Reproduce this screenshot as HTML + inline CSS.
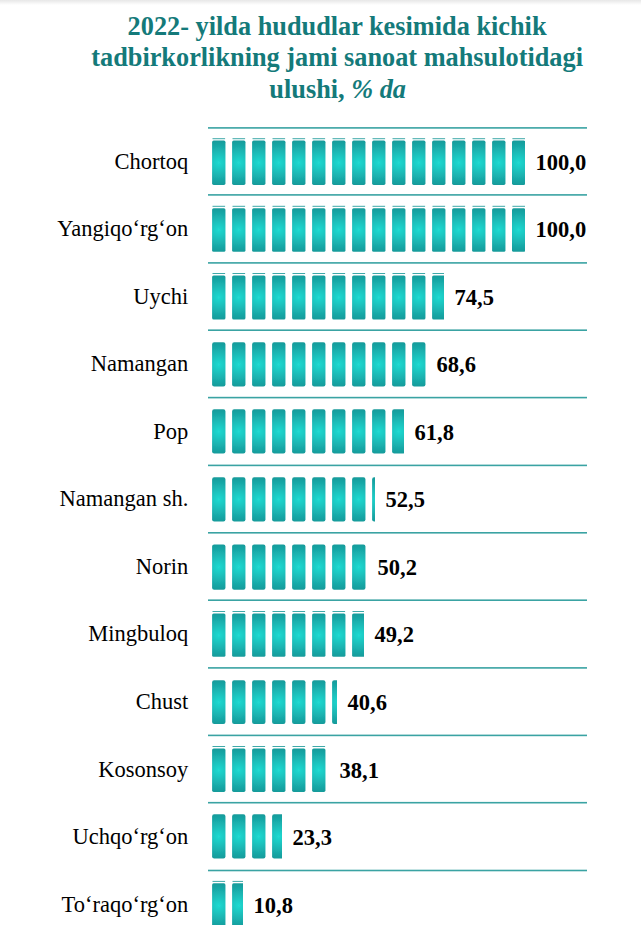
<!DOCTYPE html>
<html><head><meta charset="utf-8"><title>chart</title>
<style>
html,body{margin:0;padding:0;background:#fff;}
body{width:641px;height:925px;position:relative;overflow:hidden;font-family:"Liberation Serif",serif;}
.topstrip{position:absolute;left:0;top:0;width:641px;height:5px;background:linear-gradient(#e7e7e7,#ffffff);}
.t{position:absolute;left:37.1px;width:600px;text-align:center;color:#147a7a;font-weight:bold;font-size:26.3px;line-height:32px;white-space:nowrap;}
.t i{font-style:italic;}
.lab{position:absolute;left:0;width:188.3px;text-align:right;font-size:22.5px;line-height:26px;color:#000;white-space:nowrap;}
.val{position:absolute;font-size:22.5px;line-height:26px;font-weight:bold;color:#000;white-space:nowrap;}
svg{position:absolute;left:0;top:0;}
</style></head><body>
<div class="topstrip"></div>
<div class="t" style="top:11.0px">2022- yilda hududlar kesimida kichik</div>
<div class="t" style="top:42.4px">tadbirkorlikning jami sanoat mahsulotidagi</div>
<div class="t" style="top:74.2px;left:37.7px">ulushi, <i>% da</i></div>
<svg width="641" height="925" viewBox="0 0 641 925">
<defs>
<radialGradient id="g" gradientUnits="objectBoundingBox" cx="0" cy="0" r="1" gradientTransform="translate(0.5 0.5) scale(1.80 0.542)">
<stop offset="0" stop-color="#20d9d1"/><stop offset="0.25" stop-color="#1dc8c2"/><stop offset="0.5" stop-color="#1bb6b3"/><stop offset="0.75" stop-color="#18a5a4"/><stop offset="1" stop-color="#169797"/>
</radialGradient>
<filter id="bl" x="-5%" y="-20%" width="110%" height="140%"><feGaussianBlur stdDeviation="0.35"/></filter>

<clipPath id="c0"><rect x="208" y="136.6" width="317.0" height="52"/></clipPath>
<clipPath id="c1"><rect x="208" y="204.2" width="317.0" height="52"/></clipPath>
<clipPath id="c2"><rect x="208" y="271.4" width="236.0" height="52"/></clipPath>
<clipPath id="c3"><rect x="208" y="338.3" width="218.0" height="52"/></clipPath>
<clipPath id="c4"><rect x="208" y="405.3" width="196.0" height="52"/></clipPath>
<clipPath id="c5"><rect x="208" y="473.3" width="167.0" height="52"/></clipPath>
<clipPath id="c6"><rect x="208" y="540.4" width="159.0" height="52"/></clipPath>
<clipPath id="c7"><rect x="208" y="609.4" width="156.0" height="52"/></clipPath>
<clipPath id="c8"><rect x="208" y="676.2" width="129.0" height="52"/></clipPath>
<clipPath id="c9"><rect x="208" y="744.4" width="121.0" height="52"/></clipPath>
<clipPath id="c10"><rect x="208" y="810.3" width="74.0" height="52"/></clipPath>
<clipPath id="c11"><rect x="208" y="879.3" width="35.0" height="52"/></clipPath>
</defs>
<rect x="208" y="127.10" width="379" height="1.6" fill="#3aa3a3"/>
<g clip-path="url(#c0)"><g filter="url(#bl)"><g transform="translate(212.1 140.60)"><rect width="13.35" height="44.30" rx="1.6" fill="url(#g)"/><rect x="0.4" y="-2.4" width="12.6" height="1" fill="#3fa9a9"/></g><g transform="translate(232.1 140.60)"><rect width="13.35" height="44.30" rx="1.6" fill="url(#g)"/><rect x="0.4" y="-2.4" width="12.6" height="1" fill="#3fa9a9"/></g><g transform="translate(252.1 140.60)"><rect width="13.35" height="44.30" rx="1.6" fill="url(#g)"/><rect x="0.4" y="-2.4" width="12.6" height="1" fill="#3fa9a9"/></g><g transform="translate(272.1 140.60)"><rect width="13.35" height="44.30" rx="1.6" fill="url(#g)"/><rect x="0.4" y="-2.4" width="12.6" height="1" fill="#3fa9a9"/></g><g transform="translate(292.1 140.60)"><rect width="13.35" height="44.30" rx="1.6" fill="url(#g)"/><rect x="0.4" y="-2.4" width="12.6" height="1" fill="#3fa9a9"/></g><g transform="translate(312.1 140.60)"><rect width="13.35" height="44.30" rx="1.6" fill="url(#g)"/><rect x="0.4" y="-2.4" width="12.6" height="1" fill="#3fa9a9"/></g><g transform="translate(332.1 140.60)"><rect width="13.35" height="44.30" rx="1.6" fill="url(#g)"/><rect x="0.4" y="-2.4" width="12.6" height="1" fill="#3fa9a9"/></g><g transform="translate(352.1 140.60)"><rect width="13.35" height="44.30" rx="1.6" fill="url(#g)"/><rect x="0.4" y="-2.4" width="12.6" height="1" fill="#3fa9a9"/></g><g transform="translate(372.1 140.60)"><rect width="13.35" height="44.30" rx="1.6" fill="url(#g)"/><rect x="0.4" y="-2.4" width="12.6" height="1" fill="#3fa9a9"/></g><g transform="translate(392.1 140.60)"><rect width="13.35" height="44.30" rx="1.6" fill="url(#g)"/><rect x="0.4" y="-2.4" width="12.6" height="1" fill="#3fa9a9"/></g><g transform="translate(412.1 140.60)"><rect width="13.35" height="44.30" rx="1.6" fill="url(#g)"/><rect x="0.4" y="-2.4" width="12.6" height="1" fill="#3fa9a9"/></g><g transform="translate(432.1 140.60)"><rect width="13.35" height="44.30" rx="1.6" fill="url(#g)"/><rect x="0.4" y="-2.4" width="12.6" height="1" fill="#3fa9a9"/></g><g transform="translate(452.1 140.60)"><rect width="13.35" height="44.30" rx="1.6" fill="url(#g)"/><rect x="0.4" y="-2.4" width="12.6" height="1" fill="#3fa9a9"/></g><g transform="translate(472.1 140.60)"><rect width="13.35" height="44.30" rx="1.6" fill="url(#g)"/><rect x="0.4" y="-2.4" width="12.6" height="1" fill="#3fa9a9"/></g><g transform="translate(492.1 140.60)"><rect width="13.35" height="44.30" rx="1.6" fill="url(#g)"/><rect x="0.4" y="-2.4" width="12.6" height="1" fill="#3fa9a9"/></g><g transform="translate(512.0 140.60)"><rect width="13.35" height="44.30" rx="1.6" fill="url(#g)"/><rect x="0.4" y="-2.4" width="12.6" height="1" fill="#3fa9a9"/></g></g></g>
<rect x="208" y="194.10" width="379" height="1.6" fill="#3aa3a3"/>
<g clip-path="url(#c1)"><g filter="url(#bl)"><g transform="translate(212.1 208.20)"><rect width="13.35" height="43.60" rx="1.6" fill="url(#g)"/><rect x="0.4" y="-2.4" width="12.6" height="1" fill="#3fa9a9"/></g><g transform="translate(232.1 208.20)"><rect width="13.35" height="43.60" rx="1.6" fill="url(#g)"/><rect x="0.4" y="-2.4" width="12.6" height="1" fill="#3fa9a9"/></g><g transform="translate(252.1 208.20)"><rect width="13.35" height="43.60" rx="1.6" fill="url(#g)"/><rect x="0.4" y="-2.4" width="12.6" height="1" fill="#3fa9a9"/></g><g transform="translate(272.1 208.20)"><rect width="13.35" height="43.60" rx="1.6" fill="url(#g)"/><rect x="0.4" y="-2.4" width="12.6" height="1" fill="#3fa9a9"/></g><g transform="translate(292.1 208.20)"><rect width="13.35" height="43.60" rx="1.6" fill="url(#g)"/><rect x="0.4" y="-2.4" width="12.6" height="1" fill="#3fa9a9"/></g><g transform="translate(312.1 208.20)"><rect width="13.35" height="43.60" rx="1.6" fill="url(#g)"/><rect x="0.4" y="-2.4" width="12.6" height="1" fill="#3fa9a9"/></g><g transform="translate(332.1 208.20)"><rect width="13.35" height="43.60" rx="1.6" fill="url(#g)"/><rect x="0.4" y="-2.4" width="12.6" height="1" fill="#3fa9a9"/></g><g transform="translate(352.1 208.20)"><rect width="13.35" height="43.60" rx="1.6" fill="url(#g)"/><rect x="0.4" y="-2.4" width="12.6" height="1" fill="#3fa9a9"/></g><g transform="translate(372.1 208.20)"><rect width="13.35" height="43.60" rx="1.6" fill="url(#g)"/><rect x="0.4" y="-2.4" width="12.6" height="1" fill="#3fa9a9"/></g><g transform="translate(392.1 208.20)"><rect width="13.35" height="43.60" rx="1.6" fill="url(#g)"/><rect x="0.4" y="-2.4" width="12.6" height="1" fill="#3fa9a9"/></g><g transform="translate(412.1 208.20)"><rect width="13.35" height="43.60" rx="1.6" fill="url(#g)"/><rect x="0.4" y="-2.4" width="12.6" height="1" fill="#3fa9a9"/></g><g transform="translate(432.1 208.20)"><rect width="13.35" height="43.60" rx="1.6" fill="url(#g)"/><rect x="0.4" y="-2.4" width="12.6" height="1" fill="#3fa9a9"/></g><g transform="translate(452.1 208.20)"><rect width="13.35" height="43.60" rx="1.6" fill="url(#g)"/><rect x="0.4" y="-2.4" width="12.6" height="1" fill="#3fa9a9"/></g><g transform="translate(472.1 208.20)"><rect width="13.35" height="43.60" rx="1.6" fill="url(#g)"/><rect x="0.4" y="-2.4" width="12.6" height="1" fill="#3fa9a9"/></g><g transform="translate(492.1 208.20)"><rect width="13.35" height="43.60" rx="1.6" fill="url(#g)"/><rect x="0.4" y="-2.4" width="12.6" height="1" fill="#3fa9a9"/></g><g transform="translate(512.0 208.20)"><rect width="13.35" height="43.60" rx="1.6" fill="url(#g)"/><rect x="0.4" y="-2.4" width="12.6" height="1" fill="#3fa9a9"/></g></g></g>
<rect x="208" y="262.10" width="379" height="1.6" fill="#3aa3a3"/>
<g clip-path="url(#c2)"><g filter="url(#bl)"><g transform="translate(212.1 275.40)"><rect width="13.35" height="44.10" rx="1.6" fill="url(#g)"/><rect x="0.4" y="-2.4" width="12.6" height="1" fill="#3fa9a9"/></g><g transform="translate(232.1 275.40)"><rect width="13.35" height="44.10" rx="1.6" fill="url(#g)"/><rect x="0.4" y="-2.4" width="12.6" height="1" fill="#3fa9a9"/></g><g transform="translate(252.1 275.40)"><rect width="13.35" height="44.10" rx="1.6" fill="url(#g)"/><rect x="0.4" y="-2.4" width="12.6" height="1" fill="#3fa9a9"/></g><g transform="translate(272.1 275.40)"><rect width="13.35" height="44.10" rx="1.6" fill="url(#g)"/><rect x="0.4" y="-2.4" width="12.6" height="1" fill="#3fa9a9"/></g><g transform="translate(292.1 275.40)"><rect width="13.35" height="44.10" rx="1.6" fill="url(#g)"/><rect x="0.4" y="-2.4" width="12.6" height="1" fill="#3fa9a9"/></g><g transform="translate(312.1 275.40)"><rect width="13.35" height="44.10" rx="1.6" fill="url(#g)"/><rect x="0.4" y="-2.4" width="12.6" height="1" fill="#3fa9a9"/></g><g transform="translate(332.1 275.40)"><rect width="13.35" height="44.10" rx="1.6" fill="url(#g)"/><rect x="0.4" y="-2.4" width="12.6" height="1" fill="#3fa9a9"/></g><g transform="translate(352.1 275.40)"><rect width="13.35" height="44.10" rx="1.6" fill="url(#g)"/><rect x="0.4" y="-2.4" width="12.6" height="1" fill="#3fa9a9"/></g><g transform="translate(372.1 275.40)"><rect width="13.35" height="44.10" rx="1.6" fill="url(#g)"/><rect x="0.4" y="-2.4" width="12.6" height="1" fill="#3fa9a9"/></g><g transform="translate(392.1 275.40)"><rect width="13.35" height="44.10" rx="1.6" fill="url(#g)"/><rect x="0.4" y="-2.4" width="12.6" height="1" fill="#3fa9a9"/></g><g transform="translate(412.1 275.40)"><rect width="13.35" height="44.10" rx="1.6" fill="url(#g)"/><rect x="0.4" y="-2.4" width="12.6" height="1" fill="#3fa9a9"/></g><g transform="translate(432.1 275.40)"><rect width="13.35" height="44.10" rx="1.6" fill="url(#g)"/><rect x="0.4" y="-2.4" width="12.6" height="1" fill="#3fa9a9"/></g></g></g>
<rect x="208" y="329.40" width="379" height="1.6" fill="#3aa3a3"/>
<g clip-path="url(#c3)"><g filter="url(#bl)"><g transform="translate(212.1 342.30)"><rect width="13.35" height="44.30" rx="2.1" fill="url(#g)"/></g><g transform="translate(232.1 342.30)"><rect width="13.35" height="44.30" rx="2.1" fill="url(#g)"/></g><g transform="translate(252.1 342.30)"><rect width="13.35" height="44.30" rx="2.1" fill="url(#g)"/></g><g transform="translate(272.1 342.30)"><rect width="13.35" height="44.30" rx="2.1" fill="url(#g)"/></g><g transform="translate(292.1 342.30)"><rect width="13.35" height="44.30" rx="2.1" fill="url(#g)"/></g><g transform="translate(312.1 342.30)"><rect width="13.35" height="44.30" rx="2.1" fill="url(#g)"/></g><g transform="translate(332.1 342.30)"><rect width="13.35" height="44.30" rx="2.1" fill="url(#g)"/></g><g transform="translate(352.1 342.30)"><rect width="13.35" height="44.30" rx="2.1" fill="url(#g)"/></g><g transform="translate(372.1 342.30)"><rect width="13.35" height="44.30" rx="2.1" fill="url(#g)"/></g><g transform="translate(392.1 342.30)"><rect width="13.35" height="44.30" rx="2.1" fill="url(#g)"/></g><g transform="translate(412.1 342.30)"><rect width="13.35" height="44.30" rx="2.1" fill="url(#g)"/></g></g></g>
<rect x="208" y="396.80" width="379" height="1.6" fill="#3aa3a3"/>
<g clip-path="url(#c4)"><g filter="url(#bl)"><g transform="translate(212.1 409.30)"><rect width="13.35" height="44.30" rx="2.1" fill="url(#g)"/></g><g transform="translate(232.1 409.30)"><rect width="13.35" height="44.30" rx="2.1" fill="url(#g)"/></g><g transform="translate(252.1 409.30)"><rect width="13.35" height="44.30" rx="2.1" fill="url(#g)"/></g><g transform="translate(272.1 409.30)"><rect width="13.35" height="44.30" rx="2.1" fill="url(#g)"/></g><g transform="translate(292.1 409.30)"><rect width="13.35" height="44.30" rx="2.1" fill="url(#g)"/></g><g transform="translate(312.1 409.30)"><rect width="13.35" height="44.30" rx="2.1" fill="url(#g)"/></g><g transform="translate(332.1 409.30)"><rect width="13.35" height="44.30" rx="2.1" fill="url(#g)"/></g><g transform="translate(352.1 409.30)"><rect width="13.35" height="44.30" rx="2.1" fill="url(#g)"/></g><g transform="translate(372.1 409.30)"><rect width="13.35" height="44.30" rx="2.1" fill="url(#g)"/></g><g transform="translate(392.1 409.30)"><rect width="13.35" height="44.30" rx="2.1" fill="url(#g)"/></g></g></g>
<rect x="208" y="464.60" width="379" height="1.6" fill="#3aa3a3"/>
<g clip-path="url(#c5)"><g filter="url(#bl)"><g transform="translate(212.1 477.30)"><rect width="13.35" height="44.30" rx="2.1" fill="url(#g)"/></g><g transform="translate(232.1 477.30)"><rect width="13.35" height="44.30" rx="2.1" fill="url(#g)"/></g><g transform="translate(252.1 477.30)"><rect width="13.35" height="44.30" rx="2.1" fill="url(#g)"/></g><g transform="translate(272.1 477.30)"><rect width="13.35" height="44.30" rx="2.1" fill="url(#g)"/></g><g transform="translate(292.1 477.30)"><rect width="13.35" height="44.30" rx="2.1" fill="url(#g)"/></g><g transform="translate(312.1 477.30)"><rect width="13.35" height="44.30" rx="2.1" fill="url(#g)"/></g><g transform="translate(332.1 477.30)"><rect width="13.35" height="44.30" rx="2.1" fill="url(#g)"/></g><g transform="translate(352.1 477.30)"><rect width="13.35" height="44.30" rx="2.1" fill="url(#g)"/></g><g transform="translate(372.1 477.30)"><rect width="13.35" height="44.30" rx="2.1" fill="url(#g)"/></g></g></g>
<rect x="208" y="532.00" width="379" height="1.6" fill="#3aa3a3"/>
<g clip-path="url(#c6)"><g filter="url(#bl)"><g transform="translate(212.1 544.40)"><rect width="13.35" height="45.40" rx="2.1" fill="url(#g)"/></g><g transform="translate(232.1 544.40)"><rect width="13.35" height="45.40" rx="2.1" fill="url(#g)"/></g><g transform="translate(252.1 544.40)"><rect width="13.35" height="45.40" rx="2.1" fill="url(#g)"/></g><g transform="translate(272.1 544.40)"><rect width="13.35" height="45.40" rx="2.1" fill="url(#g)"/></g><g transform="translate(292.1 544.40)"><rect width="13.35" height="45.40" rx="2.1" fill="url(#g)"/></g><g transform="translate(312.1 544.40)"><rect width="13.35" height="45.40" rx="2.1" fill="url(#g)"/></g><g transform="translate(332.1 544.40)"><rect width="13.35" height="45.40" rx="2.1" fill="url(#g)"/></g><g transform="translate(352.1 544.40)"><rect width="13.35" height="45.40" rx="2.1" fill="url(#g)"/></g></g></g>
<rect x="208" y="599.40" width="379" height="1.6" fill="#3aa3a3"/>
<g clip-path="url(#c7)"><g filter="url(#bl)"><g transform="translate(212.1 613.40)"><rect width="13.35" height="43.40" rx="1.6" fill="url(#g)"/><rect x="0.4" y="-2.4" width="12.6" height="1" fill="#3fa9a9"/></g><g transform="translate(232.1 613.40)"><rect width="13.35" height="43.40" rx="1.6" fill="url(#g)"/><rect x="0.4" y="-2.4" width="12.6" height="1" fill="#3fa9a9"/></g><g transform="translate(252.1 613.40)"><rect width="13.35" height="43.40" rx="1.6" fill="url(#g)"/><rect x="0.4" y="-2.4" width="12.6" height="1" fill="#3fa9a9"/></g><g transform="translate(272.1 613.40)"><rect width="13.35" height="43.40" rx="1.6" fill="url(#g)"/><rect x="0.4" y="-2.4" width="12.6" height="1" fill="#3fa9a9"/></g><g transform="translate(292.1 613.40)"><rect width="13.35" height="43.40" rx="1.6" fill="url(#g)"/><rect x="0.4" y="-2.4" width="12.6" height="1" fill="#3fa9a9"/></g><g transform="translate(312.1 613.40)"><rect width="13.35" height="43.40" rx="1.6" fill="url(#g)"/><rect x="0.4" y="-2.4" width="12.6" height="1" fill="#3fa9a9"/></g><g transform="translate(332.1 613.40)"><rect width="13.35" height="43.40" rx="1.6" fill="url(#g)"/><rect x="0.4" y="-2.4" width="12.6" height="1" fill="#3fa9a9"/></g><g transform="translate(352.1 613.40)"><rect width="13.35" height="43.40" rx="1.6" fill="url(#g)"/><rect x="0.4" y="-2.4" width="12.6" height="1" fill="#3fa9a9"/></g></g></g>
<rect x="208" y="667.10" width="379" height="1.6" fill="#3aa3a3"/>
<g clip-path="url(#c8)"><g filter="url(#bl)"><g transform="translate(212.1 680.20)"><rect width="13.35" height="43.80" rx="2.1" fill="url(#g)"/></g><g transform="translate(232.1 680.20)"><rect width="13.35" height="43.80" rx="2.1" fill="url(#g)"/></g><g transform="translate(252.1 680.20)"><rect width="13.35" height="43.80" rx="2.1" fill="url(#g)"/></g><g transform="translate(272.1 680.20)"><rect width="13.35" height="43.80" rx="2.1" fill="url(#g)"/></g><g transform="translate(292.1 680.20)"><rect width="13.35" height="43.80" rx="2.1" fill="url(#g)"/></g><g transform="translate(312.1 680.20)"><rect width="13.35" height="43.80" rx="2.1" fill="url(#g)"/></g><g transform="translate(332.1 680.20)"><rect width="13.35" height="43.80" rx="2.1" fill="url(#g)"/></g></g></g>
<rect x="208" y="734.60" width="379" height="1.6" fill="#3aa3a3"/>
<g clip-path="url(#c9)"><g filter="url(#bl)"><g transform="translate(212.1 748.40)"><rect width="13.35" height="43.50" rx="1.6" fill="url(#g)"/><rect x="0.4" y="-2.4" width="12.6" height="1" fill="#3fa9a9"/></g><g transform="translate(232.1 748.40)"><rect width="13.35" height="43.50" rx="1.6" fill="url(#g)"/><rect x="0.4" y="-2.4" width="12.6" height="1" fill="#3fa9a9"/></g><g transform="translate(252.1 748.40)"><rect width="13.35" height="43.50" rx="1.6" fill="url(#g)"/><rect x="0.4" y="-2.4" width="12.6" height="1" fill="#3fa9a9"/></g><g transform="translate(272.1 748.40)"><rect width="13.35" height="43.50" rx="1.6" fill="url(#g)"/><rect x="0.4" y="-2.4" width="12.6" height="1" fill="#3fa9a9"/></g><g transform="translate(292.1 748.40)"><rect width="13.35" height="43.50" rx="1.6" fill="url(#g)"/><rect x="0.4" y="-2.4" width="12.6" height="1" fill="#3fa9a9"/></g><g transform="translate(312.1 748.40)"><rect width="13.35" height="43.50" rx="1.6" fill="url(#g)"/><rect x="0.4" y="-2.4" width="12.6" height="1" fill="#3fa9a9"/></g></g></g>
<rect x="208" y="801.90" width="379" height="1.6" fill="#3aa3a3"/>
<g clip-path="url(#c10)"><g filter="url(#bl)"><g transform="translate(212.1 814.30)"><rect width="13.35" height="44.30" rx="2.1" fill="url(#g)"/></g><g transform="translate(232.1 814.30)"><rect width="13.35" height="44.30" rx="2.1" fill="url(#g)"/></g><g transform="translate(252.1 814.30)"><rect width="13.35" height="44.30" rx="2.1" fill="url(#g)"/></g><g transform="translate(272.1 814.30)"><rect width="13.35" height="44.30" rx="2.1" fill="url(#g)"/></g></g></g>
<rect x="208" y="869.70" width="379" height="1.6" fill="#3aa3a3"/>
<g clip-path="url(#c11)"><g filter="url(#bl)"><g transform="translate(212.1 883.30)"><rect width="13.35" height="44.30" rx="1.6" fill="url(#g)"/><rect x="0.4" y="-2.4" width="12.6" height="1" fill="#3fa9a9"/></g><g transform="translate(232.1 883.30)"><rect width="13.35" height="44.30" rx="1.6" fill="url(#g)"/><rect x="0.4" y="-2.4" width="12.6" height="1" fill="#3fa9a9"/></g></g></g>
</svg>
<div class="lab" style="top:148.6px">Chortoq</div>
<div class="val" style="top:149.6px;left:535.6px">100,0</div>
<div class="lab" style="top:216.1px">Yangiqo‘rg‘on</div>
<div class="val" style="top:217.1px;left:535.6px">100,0</div>
<div class="lab" style="top:283.6px">Uychi</div>
<div class="val" style="top:284.6px;left:454.6px">74,5</div>
<div class="lab" style="top:351.1px">Namangan</div>
<div class="val" style="top:352.1px;left:436.6px">68,6</div>
<div class="lab" style="top:418.6px">Pop</div>
<div class="val" style="top:419.6px;left:414.6px">61,8</div>
<div class="lab" style="top:486.1px">Namangan sh.</div>
<div class="val" style="top:487.1px;left:385.6px">52,5</div>
<div class="lab" style="top:553.6px">Norin</div>
<div class="val" style="top:554.6px;left:377.6px">50,2</div>
<div class="lab" style="top:621.1px">Mingbuloq</div>
<div class="val" style="top:622.1px;left:374.6px">49,2</div>
<div class="lab" style="top:688.6px">Chust</div>
<div class="val" style="top:689.6px;left:347.6px">40,6</div>
<div class="lab" style="top:756.8px">Kosonsoy</div>
<div class="val" style="top:757.9px;left:339.6px">38,1</div>
<div class="lab" style="top:824.3px">Uchqo‘rg‘on</div>
<div class="val" style="top:825.4px;left:292.6px">23,3</div>
<div class="lab" style="top:891.8px">To‘raqo‘rg‘on</div>
<div class="val" style="top:892.9px;left:253.6px">10,8</div>
</body></html>
